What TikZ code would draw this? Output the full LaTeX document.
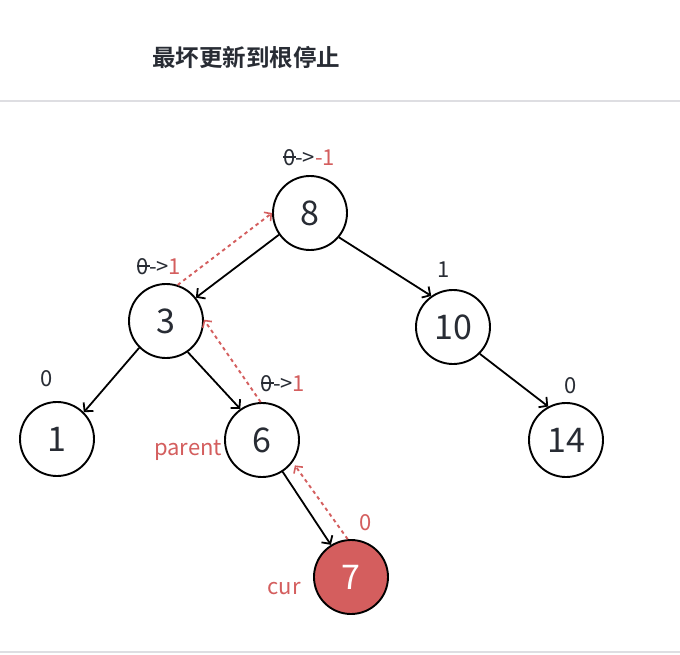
\documentclass[tikz,border=0pt]{standalone}
\usepackage{fontspec}
\setmainfont{Noto Sans CJK SC}[BoldFont={Noto Sans CJK SC Bold}]
\usetikzlibrary{arrows.meta}
\definecolor{rd}{RGB}{212,94,94}
\definecolor{ink}{RGB}{40,44,52}
\definecolor{rule}{RGB}{222,222,226}
\newcommand\szero{\makebox[0pt][l]{\hspace{0.01em}\rule[0.34em]{0.58em}{0.08em}}0}
\begin{document}
\begin{tikzpicture}[x=1pt,y=-1pt,
  nd/.style={circle,draw=black,line width=1.9pt,minimum size=74pt,inner sep=0pt,
    font=\fontsize{34}{34}\selectfont,text=ink},
  lb/.style={font=\fontsize{22}{22}\selectfont,text=ink,inner sep=0pt,anchor=base},
  edge/.style={-{Straight Barb[length=6pt,width=13pt,line width=1.8pt]},line width=1.8pt,black},
  back/.style={-{Straight Barb[length=5pt,width=11pt,line width=1.6pt]},line width=1.9pt,rd,
    dash pattern=on 3.5pt off 3.5pt}]
\useasboundingbox (0,0) rectangle (680,654);
\fill[white] (0,0) rectangle (680,654);
\draw[rule,line width=1.2pt] (0,101) -- (680,101);
\draw[rule,line width=1.2pt] (0,652) -- (680,652);
\node[font=\bfseries\fontsize{23.5}{23.5}\selectfont,text=ink] (title) at (246,57) {最坏更新到根停止};

\node[nd] (n8) at (310,213) {8};
\node[nd] (n3) at (166,321) {3};
\node[nd] (n10) at (453,327) {10};
\node[nd] (n1) at (57,439) {1};
\node[nd] (n6) at (262,440) {6};
\node[nd] (n14) at (566,440) {14};
\node[nd,fill=rd,text=white] (n7) at (351,577) {7};

\node[lb] (l8) at (309,165) {\szero->\textcolor{rd}{-1}};
\node[lb] (l3) at (159,274) {\szero->\textcolor{rd}{1}};
\node[lb] (l10) at (444,277) {1};
\node[lb] (l1) at (47,386) {0};
\node[lb] (l6) at (283,391) {\szero->\textcolor{rd}{1}};
\node[lb] (l14) at (571,393) {0};
\node[lb,text=rd] (l7) at (366,530) {0};
\node[lb,text=rd] (lp) at (188,455) {parent};
\node[lb,text=rd] (lc) at (284,594) {cur};

\draw[edge] (n8.215) -- (n3.38);
\draw[edge] (n8.-40) -- (n10.125);
\draw[edge] (n3.-135) -- (n1.45);
\draw[edge] (n3.-55) -- (n6.125);
\draw[edge] (n10.-45) -- (n14.118);
\draw[edge] (n6.-57) -- (n7.122);

\draw[back] (n7.95) -- ([shift={(3pt,-2pt)}]n6.-38);
\draw[back] (n6.92) -- (n3.2);
\draw[back] (n3.72) -- (n8.180);
\end{tikzpicture}
\end{document}
